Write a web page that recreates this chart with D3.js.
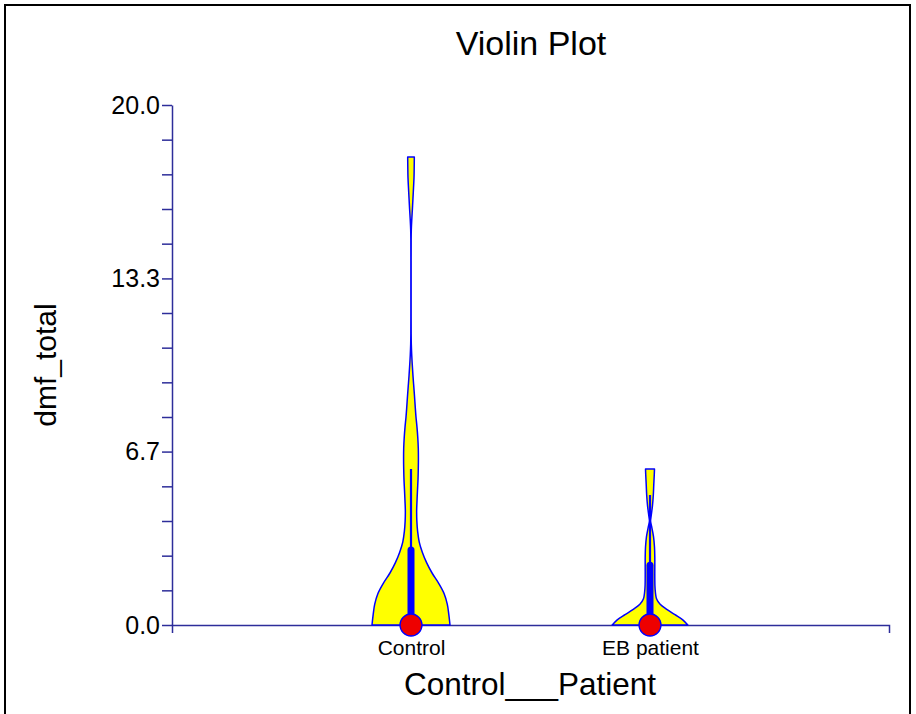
<!DOCTYPE html>
<html>
<head>
<meta charset="utf-8">
<script src="https://cdn.jsdelivr.net/npm/d3@7"></script>
<style>
  body { margin: 0; background: #fff; }
  svg { display: block; }
  text { font-family: "Liberation Sans", Arial, sans-serif; fill: #000; }
</style>
</head>
<body>
<svg id="chart" width="916" height="714"></svg>
<script>
// ---- data ----
const categories = ["Control", "EB patient"];
const medians = [0, 0];
const q1 = [0, 0];
const q3 = [2.88, 2.3];
const whiskerHigh = [6.0, 5.0];

const yTickValues = [0, 6.67, 13.33, 20];
const yTickLabels = ["0.0", "6.7", "13.3", "20.0"];

// density profile (value, relative density)
const controlValues = [0.0, 0.4, 0.8, 1.2, 1.6, 2.0, 2.4, 2.8, 3.2, 3.6, 4.0, 4.4, 4.8, 5.2, 5.6, 6.0, 6.4, 6.8, 7.2, 7.6, 8.0, 8.4, 8.8, 9.2, 9.6, 10.0, 10.4, 10.8, 11.2, 12.0, 13.0, 14.0, 14.8, 15.2, 15.6, 16.0, 16.4, 16.8, 17.2, 17.6, 18.0];
const controlDensity = [1.0, 0.97, 0.93, 0.85, 0.71, 0.54, 0.40, 0.29, 0.21, 0.17, 0.15, 0.145, 0.155, 0.167, 0.18, 0.187, 0.19, 0.187, 0.174, 0.154, 0.128, 0.108, 0.09, 0.07, 0.05, 0.033, 0.018, 0.008, 0.004, 0.003, 0.003, 0.003, 0.004, 0.008, 0.02, 0.036, 0.05, 0.064, 0.077, 0.082, 0.085];
const ebValues = [0.0, 0.2, 0.4, 0.6, 0.8, 1.0, 1.4, 1.8, 2.2, 2.6, 3.0, 3.4, 3.8, 4.0, 4.2, 4.6, 5.0, 5.4, 5.8, 6.0];
const ebDensity = [0.97, 0.84, 0.64, 0.43, 0.26, 0.17, 0.13, 0.123, 0.123, 0.123, 0.115, 0.09, 0.04, 0.013, 0.03, 0.064, 0.085, 0.097, 0.11, 0.115];

const profiles = [
  {values: controlValues, density: controlDensity},
  {values: ebValues, density: ebDensity}
];

// ---- layout ----
const svg = d3.select("#chart");
const axisColor = "#2d2d9a";

svg.append("rect")
  .attr("x", 5).attr("y", 5).attr("width", 905).attr("height", 730)
  .attr("fill", "none").attr("stroke", "#000").attr("stroke-width", 2);

const y = d3.scaleLinear().domain([0, 20]).range([625, 105]);
const x = d3.scalePoint().domain(categories).range([172, 889]).padding(1);
const w = d3.scaleLinear().domain([0, 1]).range([0, 39]);

// title
svg.append("text").attr("x", 531).attr("y", 55)
  .attr("text-anchor", "middle").attr("font-size", 34).text("Violin Plot");

// y axis
const yAxis = svg.append("g").attr("transform", "translate(172,0)")
  .call(d3.axisLeft(y).tickValues(yTickValues)
    .tickFormat((d, i) => yTickLabels[i]).tickSize(10).tickSizeOuter(0).tickPadding(2));
yAxis.selectAll("text").attr("font-size", 25).attr("fill", "#000")
  .style("font-family", "'Liberation Sans', Arial, sans-serif");

const minor = [];
for (let i = 0; i < 3; i++) for (let j = 1; j < 5; j++) minor.push(i * 20 / 3 + j * 20 / 15);
svg.append("g").attr("transform", "translate(172,0)")
  .call(d3.axisLeft(y).tickValues(minor).tickFormat("").tickSize(10).tickSizeOuter(0))
  .call(g => g.select(".domain").remove());

// x axis
const xAxis = svg.append("g").attr("transform", "translate(0,625)")
  .call(d3.axisBottom(x).tickSize(0).tickSizeOuter(8).tickPadding(15));
xAxis.selectAll("text").attr("font-size", 21).attr("fill", "#000")
  .style("font-family", "'Liberation Sans', Arial, sans-serif");

svg.selectAll(".domain, .tick line").attr("stroke", axisColor).attr("stroke-width", 1.5);

// axis titles
svg.append("text").attr("x", 530).attr("y", 695)
  .attr("text-anchor", "middle").attr("font-size", 31.5).text("Control___Patient");
svg.append("text").attr("transform", "translate(56,365) rotate(-90)")
  .attr("text-anchor", "middle").attr("font-size", 30).text("dmf_total");

// violins
const plot = svg.append("g");
profiles.forEach((p, i) => {
  const cx = x(categories[i]);
  const pts = p.values.map((v, k) => ({v, d: p.density[k]}));
  const area = d3.area()
    .y(d => y(d.v))
    .x0(d => cx - w(d.d))
    .x1(d => cx + w(d.d))
    .curve(d3.curveCatmullRom.alpha(0.5));
  plot.append("path").datum(pts)
    .attr("d", area)
    .attr("fill", "#ffff00")
    .attr("stroke", "#0000ff").attr("stroke-width", 1.5)
    .attr("stroke-linejoin", "round");

  // whisker
  plot.append("line")
    .attr("x1", cx).attr("x2", cx)
    .attr("y1", y(q1[i])).attr("y2", y(whiskerHigh[i]))
    .attr("stroke", "#0000ff").attr("stroke-width", 2.2);
  // box
  plot.append("line")
    .attr("x1", cx).attr("x2", cx)
    .attr("y1", y(q1[i])).attr("y2", y(q3[i]))
    .attr("stroke", "#0000ff").attr("stroke-width", 7)
    .attr("stroke-linecap", "round");
  // median
  plot.append("circle")
    .attr("cx", cx).attr("cy", y(medians[i])).attr("r", 11)
    .attr("fill", "#ee0000").attr("stroke", "#0000ff").attr("stroke-width", 1.3);
});
</script>
</body>
</html>
